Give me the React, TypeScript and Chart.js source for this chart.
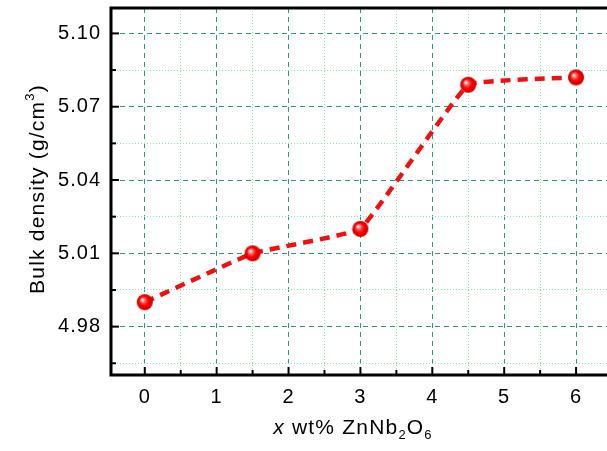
import React, { useEffect, useRef } from "react";
import { Chart, registerables } from "chart.js";
Chart.register(...registerables);

const xValues = [0, 1.5, 3, 4.5, 6];
const density = [4.99, 5.01, 5.02, 5.079, 5.082];
const xMajorTicks = [0, 1, 2, 3, 4, 5, 6];
const xMinorTicks = [0.5, 1.5, 2.5, 3.5, 4.5, 5.5];
const yMajorTicks = [4.98, 5.01, 5.04, 5.07, 5.1];
const yMinorTicks = [4.965, 4.995, 5.025, 5.055, 5.085];
const yTitleMain = "Bulk density (g/cm";
const yTitleSup = "3";
const yTitleEnd = ")";

const FONT = '"Liberation Sans", Arial, sans-serif';
const MAJOR_COLOR = "#2f9a78";
const MINOR_COLOR = "#8fe0a0";

function isIn(arr: number[], v: number) {
  return arr.some((a) => Math.abs(a - v) < 1e-6);
}

function makeSphere(): HTMLCanvasElement {
  const s = 18;
  const c = document.createElement("canvas");
  c.width = s;
  c.height = s;
  const g = c.getContext("2d")!;
  const r = 8;
  const grad = g.createRadialGradient(s / 2 - 2.5, s / 2 - 2.5, 0.5, s / 2, s / 2, r);
  grad.addColorStop(0, "#ffffff");
  grad.addColorStop(0.22, "#ff7070");
  grad.addColorStop(0.55, "#ff0000");
  grad.addColorStop(1, "#c80000");
  g.fillStyle = grad;
  g.beginPath();
  g.arc(s / 2, s / 2, r, 0, Math.PI * 2);
  g.fill();
  return c;
}

function drawRich(
  ctx: CanvasRenderingContext2D,
  parts: { t: string; font: string; dy: number }[],
  cx: number,
  baseY: number
) {
  let total = 0;
  for (const p of parts) {
    ctx.font = p.font;
    total += ctx.measureText(p.t).width;
  }
  let x = cx - total / 2;
  ctx.textAlign = "left";
  ctx.textBaseline = "alphabetic";
  for (const p of parts) {
    ctx.font = p.font;
    ctx.fillText(p.t, x, baseY + p.dy);
    x += ctx.measureText(p.t).width;
  }
}

const framePlugin = {
  id: "frame",
  beforeDraw(chart: any) {
    (chart.ctx as any).letterSpacing = "1px";
  },
  afterDraw(chart: any) {
    const { ctx, chartArea, scales } = chart;
    const { left, right, top, bottom } = chartArea;
    ctx.save();
    ctx.strokeStyle = "#000";
    ctx.lineWidth = 2;
    for (const v of [...xMajorTicks, ...xMinorTicks]) {
      const px = scales.x.getPixelForValue(v);
      const len = isIn(xMajorTicks, v) ? 8 : 5;
      ctx.beginPath();
      ctx.moveTo(px, bottom);
      ctx.lineTo(px, bottom - len);
      ctx.stroke();
    }
    for (const v of [...yMajorTicks, ...yMinorTicks]) {
      const py = scales.y.getPixelForValue(v);
      const len = isIn(yMajorTicks, v) ? 8 : 5;
      ctx.beginPath();
      ctx.moveTo(left, py);
      ctx.lineTo(left + len, py);
      ctx.stroke();
    }
    ctx.lineWidth = 3;
    ctx.strokeRect(left, top, right - left, bottom - top);

    ctx.fillStyle = "#000";
    (ctx as any).letterSpacing = "1.2px";
    const main = `21px ${FONT}`;
    const small = `13px ${FONT}`;
    drawRich(
      ctx,
      [
        { t: "x", font: `italic 21px ${FONT}`, dy: 0 },
        { t: " wt% ZnNb", font: main, dy: 0 },
        { t: "2", font: small, dy: 5 },
        { t: "O", font: main, dy: 0 },
        { t: "6", font: small, dy: 5 },
      ],
      353,
      434
    );
    ctx.translate(44, 189);
    ctx.rotate(-Math.PI / 2);
    drawRich(
      ctx,
      [
        { t: yTitleMain, font: main, dy: 0 },
        { t: yTitleSup, font: small, dy: -10 },
        { t: yTitleEnd, font: main, dy: 0 },
      ],
      0,
      0
    );
    ctx.restore();
  },
};

export default function App() {
  const ref = useRef<HTMLCanvasElement>(null);
  useEffect(() => {
    const sphere = makeSphere();
    const chart = new Chart(ref.current!, {
      type: "line",
      data: {
        datasets: [
          {
            data: xValues.map((x, i) => ({ x, y: density[i] })),
            borderColor: "#f01010",
            borderWidth: 4.5,
            borderDash: [10, 7],
            tension: 0.08,
            pointStyle: sphere as any,
            pointRadius: 8,
            fill: false,
          },
        ],
      },
      options: {
        animation: false,
        responsive: false,
        layout: { autoPadding: false, padding: { left: 0, top: 8, right: 8, bottom: 0 } },
        plugins: { legend: { display: false }, tooltip: { enabled: false } },
        scales: {
          x: {
            type: "linear",
            min: -0.47,
            max: 6.5,
            afterBuildTicks: (s: any) => {
              s.ticks = [...xMajorTicks, ...xMinorTicks]
                .sort((a, b) => a - b)
                .map((v) => ({ value: v }));
            },
            afterFit: (s: any) => {
              s.height = 76;
              s.paddingLeft = 0;
              s.paddingRight = 0;
            },
            ticks: {
              autoSkip: false,
              maxRotation: 0,
              padding: 10,
              color: "#000",
              font: { family: FONT, size: 20 },
              callback: (v: any) => (isIn(xMajorTicks, Number(v)) ? String(v) : ""),
            },
            grid: {
              drawTicks: false,
              lineWidth: 1,
              color: (c: any) =>
                c.tick && isIn(xMajorTicks, c.tick.value) ? MAJOR_COLOR : MINOR_COLOR,
            },
            border: {
              display: false,
              dash: (c: any) =>
                c.tick && isIn(xMajorTicks, c.tick.value) ? [5, 4] : [1, 2],
            } as any,
          },
          y: {
            type: "linear",
            min: 4.9602,
            max: 5.1104,
            afterBuildTicks: (s: any) => {
              s.ticks = [...yMajorTicks, ...yMinorTicks]
                .sort((a, b) => a - b)
                .map((v) => ({ value: v }));
            },
            afterFit: (s: any) => {
              s.width = 111;
              s.paddingTop = 0;
              s.paddingBottom = 0;
            },
            ticks: {
              autoSkip: false,
              padding: 10,
              color: "#000",
              font: { family: FONT, size: 20 },
              callback: (v: any) =>
                isIn(yMajorTicks, Number(v)) ? Number(v).toFixed(2) : "",
            },
            grid: {
              drawTicks: false,
              lineWidth: 1,
              color: (c: any) =>
                c.tick && isIn(yMajorTicks, c.tick.value) ? MAJOR_COLOR : MINOR_COLOR,
            },
            border: {
              display: false,
              dash: (c: any) =>
                c.tick && isIn(yMajorTicks, c.tick.value) ? [5, 4] : [1, 2],
            } as any,
          },
        },
      },
      plugins: [framePlugin],
    });
    return () => chart.destroy();
  }, []);
  return (
    <div
      style={{
        position: "absolute",
        left: 0,
        top: 0,
        width: 607,
        height: 451,
        overflow: "hidden",
        background: "#fff",
      }}
    >
      <canvas ref={ref} width={620} height={451} style={{ display: "block" }} />
    </div>
  );
}
